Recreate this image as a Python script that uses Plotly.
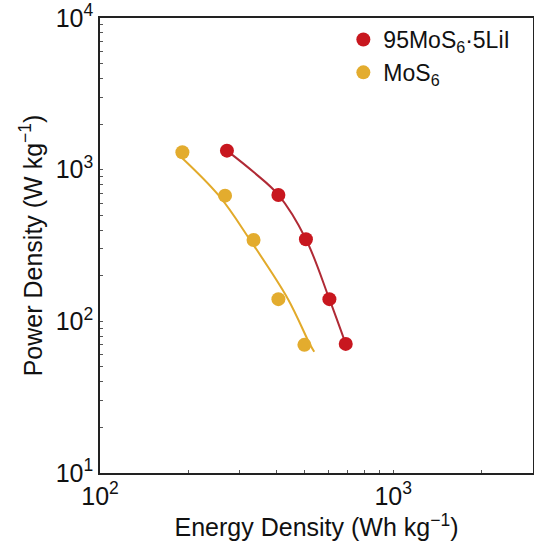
import plotly.graph_objects as go

# Measured points
energy_mos6_lii = [271, 406, 504, 606, 689]
power_mos6_lii = [1335, 681, 348, 140, 71]
energy_mos6 = [191, 267, 334, 406, 498]
power_mos6 = [1302, 674, 344, 140, 70]

# Fitted curves
fit_energy_lii = [271, 335, 406, 504, 606, 689]
fit_power_lii = [1335, 960, 681, 348, 140, 71]
fit_energy_mos6 = [189, 255, 325, 438, 521, 538]
fit_power_mos6 = [1213, 671, 344, 140, 70, 63]

series_names = ["95MoS<sub>6</sub>·5LiI", "MoS<sub>6</sub>"]

red = "#C8171F"
red_line = "#B02A35"
gold = "#E3AC2E"
gold_line = "#E2AA2A"

fig = go.Figure()
fig.add_trace(go.Scatter(x=fit_energy_lii, y=fit_power_lii, mode="lines",
                         line=dict(color=red_line, width=2, shape="spline"),
                         showlegend=False, hoverinfo="skip"))
fig.add_trace(go.Scatter(x=fit_energy_mos6, y=fit_power_mos6, mode="lines",
                         line=dict(color=gold_line, width=2, shape="spline"),
                         showlegend=False, hoverinfo="skip"))
fig.add_trace(go.Scatter(x=energy_mos6_lii, y=power_mos6_lii, mode="markers",
                         marker=dict(color=red, size=14), name=series_names[0]))
fig.add_trace(go.Scatter(x=energy_mos6, y=power_mos6, mode="markers",
                         marker=dict(color=gold, size=14), name=series_names[1]))

xmaj = [100, 1000]
xminor = [200, 300, 400, 500, 600, 700, 800, 900, 2000, 3000]
xvals = xmaj + xminor
xtext = ["10<sup>2</sup>", "10<sup>3</sup>"] + [""] * len(xminor)

ymaj = [10, 100, 1000, 10000]
yminor = [m * d for d in [10, 100, 1000] for m in range(2, 10)]
yvals = ymaj + yminor
ytext = ["10<sup>1</sup>", "10<sup>2</sup>", "10<sup>3</sup>", "10<sup>4</sup>"] + [""] * len(yminor)

font = "Liberation Sans, Arial, sans-serif"

fig.update_layout(
    width=534, height=550, autosize=False,
    margin=dict(l=100, r=1, t=18, b=77, autoexpand=False),
    paper_bgcolor="white", plot_bgcolor="white",
    font=dict(family=font, size=23, color="#111111"),
    legend=dict(x=0.562, y=1.0, xanchor="left", yanchor="top",
                bgcolor="rgba(0,0,0,0)", font=dict(size=23), itemsizing="trace",
                tracegroupgap=0),
    xaxis=dict(type="log", range=[2, 3.477], tickvals=xvals, ticktext=xtext,
               ticks="inside", ticklen=3, tickcolor="#555", showgrid=False,
               showline=True, linecolor="#222", linewidth=1.5, mirror=True,
               zeroline=False, tickfont=dict(size=25), automargin=False,
               title=dict(text="Energy Density (Wh kg<sup>−1</sup>)", font=dict(size=25), standoff=2)),
    yaxis=dict(type="log", range=[1, 4], tickvals=yvals, ticktext=ytext,
               ticks="inside", ticklen=3, tickcolor="#555", showgrid=False,
               showline=True, linecolor="#222", linewidth=1.5, mirror=True,
               zeroline=False, tickfont=dict(size=25), automargin=False,
               title=dict(text="Power Density (W kg<sup>−1</sup>)", font=dict(size=25), standoff=6)),
)

post = ("document.body.style.margin='0';document.body.style.padding='0';"
        "document.body.style.overflow='hidden';"
        "var gd=document.getElementById('{plot_id}');"
        "Plotly.relayout(gd,{width:534,height:550});")

fig.write_html("out.html", config={"responsive": False, "displayModeBar": False},
               post_script=post)
